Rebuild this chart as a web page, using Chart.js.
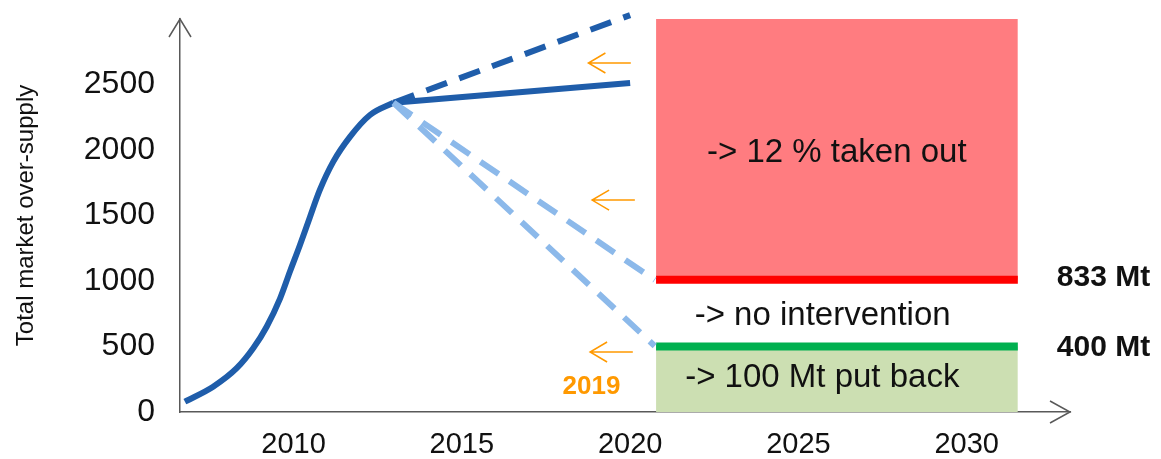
<!DOCTYPE html>
<html>
<head>
<meta charset="utf-8">
<script src="https://cdn.jsdelivr.net/npm/chart.js@4"></script>
<style>
  html, body { margin: 0; padding: 0; background: #fff; }
  canvas { display: block; }
</style>
</head>
<body>
<canvas id="supplyChart" width="1161" height="459"></canvas>
<script>
// historic over-supply (S-curve)
const curveYears = [2006.77, 2007.61, 2008.31, 2008.8, 2009.2, 2009.6, 2009.89, 2010.19, 2010.49, 2010.78, 2011.18, 2011.68, 2012.27, 2012.97];
const curveValues = [79, 193, 334, 486, 651, 868, 1071, 1275, 1491, 1695, 1911, 2102, 2267, 2361];

// projections to 2020
const solidYears = [2012.97, 2020.0];
const solidValues = [2361, 2511];
const highYears = [2012.97, 2020.0];
const highValues = [2361, 3030];
const midYears = [2012.97, 2020.73];
const midValues = [2361, 1008];
const lowYears = [2012.97, 2020.73];
const lowValues = [2361, 504];

// scenario bands
const zoneYears = [2020.77, 2031.52];
const takenOutTop = 3000;
const noInterventionLevel = 1010;
const putBackLevel = 500;

// axes
const xTicks = [2010, 2015, 2020, 2025, 2030];
const yTicks = [0, 500, 1000, 1500, 2000, 2500];

// annotations
const noteTexts = ["-> 12 % taken out", "-> no intervention", "-> 100 Mt put back"];
const noteYears = [2026.14, 2025.72, 2025.71];
const noteValues = [1977, 733, 260];
const mtTexts = ["833 Mt", "400 Mt"];
const mtYear = 2032.68;
const mtValues = [1027, 489];
const yearNote = "2019";
const yearNoteX = 2018.85;
const yearNoteY = 193;
const arrowTipYears = [2018.76, 2018.87, 2018.81];
const arrowTailYears = [2020.02, 2020.14, 2020.08];
const arrowValues = [2664, 1618, 458];

const FONT = '"Liberation Sans", Arial, sans-serif';
const pts = (xs, ys) => xs.map((x, i) => ({ x: x, y: ys[i] }));

const overlay = {
  id: "overlay",
  afterDraw(chart) {
    const { ctx, chartArea: a, scales: { x, y } } = chart;
    ctx.save();

    // axis arrow heads
    ctx.strokeStyle = "#595959";
    ctx.lineWidth = 1.5;
    ctx.beginPath();
    ctx.moveTo(a.left - 11, a.top + 18);
    ctx.lineTo(a.left, a.top);
    ctx.lineTo(a.left + 11, a.top + 18);
    ctx.moveTo(a.right - 20, a.bottom - 11);
    ctx.lineTo(a.right, a.bottom);
    ctx.lineTo(a.right - 20, a.bottom + 11);
    ctx.stroke();

    // orange arrows pointing back to 2019
    ctx.strokeStyle = "#FF9900";
    ctx.lineWidth = 1.5;
    arrowValues.forEach((v, i) => {
      const py = y.getPixelForValue(v);
      const tip = x.getPixelForValue(arrowTipYears[i]);
      const tail = x.getPixelForValue(arrowTailYears[i]);
      ctx.beginPath();
      ctx.moveTo(tail, py);
      ctx.lineTo(tip, py);
      ctx.moveTo(tip + 17, py - 10);
      ctx.lineTo(tip, py);
      ctx.lineTo(tip + 17, py + 10);
      ctx.stroke();
    });

    ctx.textBaseline = "middle";
    ctx.fillStyle = "#111";
    ctx.textAlign = "center";
    ctx.font = "33px " + FONT;
    noteTexts.forEach((t, i) => {
      ctx.fillText(t, x.getPixelForValue(noteYears[i]), y.getPixelForValue(noteValues[i]));
    });

    ctx.textAlign = "left";
    ctx.font = "bold 30px " + FONT;
    mtTexts.forEach((t, i) => {
      ctx.fillText(t, x.getPixelForValue(mtYear), y.getPixelForValue(mtValues[i]));
    });

    ctx.textAlign = "center";
    ctx.fillStyle = "#FF9900";
    ctx.font = "bold 26px " + FONT;
    ctx.fillText(yearNote, x.getPixelForValue(yearNoteX), y.getPixelForValue(yearNoteY));

    ctx.restore();
  },
};

const darkBlue = "#1F5DAA";
const lightBlue = "#8CB9EA";

new Chart(document.getElementById("supplyChart"), {
  type: "line",
  data: {
    datasets: [
      {
        data: pts(zoneYears, [takenOutTop, takenOutTop]),
        fill: { value: noInterventionLevel },
        backgroundColor: "#FF7C80",
        borderWidth: 0,
        pointRadius: 0,
        order: 10,
      },
      {
        data: pts(zoneYears, [noInterventionLevel, noInterventionLevel]),
        borderColor: "#FF0000",
        borderWidth: 8,
        pointRadius: 0,
        fill: false,
        order: 9,
      },
      {
        data: pts(zoneYears, [putBackLevel, putBackLevel]),
        borderColor: "#00B050",
        backgroundColor: "#CCDFB2",
        borderWidth: 8,
        pointRadius: 0,
        fill: "origin",
        order: 9,
      },
      {
        data: pts(curveYears, curveValues),
        borderColor: darkBlue,
        borderWidth: 6,
        pointRadius: 0,
        cubicInterpolationMode: "monotone",
        order: 3,
      },
      {
        data: pts(solidYears, solidValues),
        borderColor: darkBlue,
        borderWidth: 6,
        pointRadius: 0,
        order: 3,
      },
      {
        data: pts(highYears, highValues),
        borderColor: darkBlue,
        borderWidth: 6,
        borderDash: [22, 13],
        pointRadius: 0,
        clip: false,
        order: 3,
      },
      {
        data: pts(midYears, midValues),
        borderColor: lightBlue,
        borderWidth: 6,
        borderDash: [22, 13],
        pointRadius: 0,
        order: 1,
      },
      {
        data: pts(lowYears, lowValues),
        borderColor: lightBlue,
        borderWidth: 6,
        borderDash: [22, 13],
        pointRadius: 0,
        order: 1,
      },
    ],
  },
  options: {
    responsive: false,
    animation: false,
    layout: { padding: { top: 19, right: 91, left: 0, bottom: 0 } },
    plugins: { legend: { display: false }, tooltip: { enabled: false } },
    scales: {
      x: {
        type: "linear",
        min: 2006.625,
        max: 2033.07,
        afterBuildTicks: (scale) => {
          scale.ticks = xTicks.map((v) => ({ value: v }));
        },
        afterFit: (scale) => {
          scale.height = 47;
          scale.paddingLeft = 0;
          scale.paddingRight = 0;
        },
        grid: { display: false, drawTicks: false },
        border: { display: true, color: "#595959", width: 1.5 },
        ticks: {
          padding: 16,
          color: "#111",
          font: { family: FONT, size: 29 },
          callback: (v) => String(v),
        },
      },
      y: {
        min: 0,
        max: 3000,
        afterBuildTicks: (scale) => {
          scale.ticks = yTicks.map((v) => ({ value: v }));
        },
        afterFit: (scale) => {
          scale.width = 180;
          scale.paddingTop = 0;
          scale.paddingBottom = 0;
        },
        grid: { display: false, drawTicks: false },
        border: { display: true, color: "#595959", width: 1.5 },
        ticks: {
          padding: 25,
          color: "#111",
          font: { family: FONT, size: 32 },
          callback: (v) => String(v),
        },
        title: {
          display: true,
          text: "Total market over-supply",
          color: "#111",
          font: { family: FONT, size: 24 },
          padding: { top: 12, bottom: 0 },
        },
      },
    },
  },
  plugins: [overlay],
});
</script>
</body>
</html>
